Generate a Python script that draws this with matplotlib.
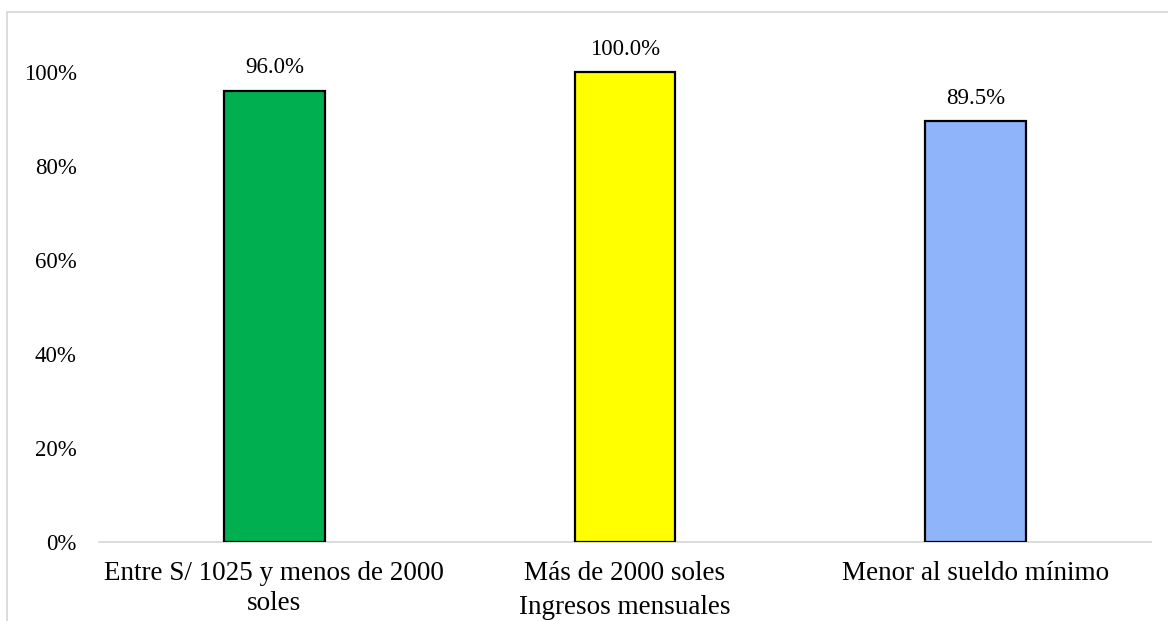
import matplotlib
matplotlib.use("Agg")
import matplotlib.pyplot as plt
from matplotlib.patches import Rectangle
from matplotlib.ticker import FuncFormatter, MultipleLocator

categories = ["Entre S/ 1025 y menos de 2000\nsoles", "Más de 2000 soles", "Menor al sueldo mínimo"]
values = [0.960, 1.000, 0.895]
labels = ["96.0%", "100.0%", "89.5%"]
colors = ["#00B050", "#FFFF00", "#8FB4F9"]
xlabel = "Ingresos mensuales"

plt.rcParams['font.family'] = ['Liberation Serif', 'DejaVu Serif']

fig = plt.figure(figsize=(11.68, 6.21), dpi=100)
fig.patches.append(Rectangle((7/1168, -0.01), 1.02, 1 - 12/621 + 0.01, transform=fig.transFigure,
                             fill=False, edgecolor="#d9d9d9", linewidth=1.3, zorder=0))
ax = fig.add_axes([99/1168, 1 - 542/621, (1151-99)/1168, (542-25)/621])

x = list(range(len(categories)))
bars = ax.bar(x, values, width=0.288, color=colors, edgecolor="black", linewidth=1.6, zorder=3)
for b, lab in zip(bars, labels):
    ax.annotate(lab, (b.get_x() + b.get_width()/2, b.get_height()), xytext=(0, 12.5),
                textcoords="offset points", ha="center", va="baseline", fontsize=16.5)

ax.set_xlim(-0.5, 2.5)
ax.set_ylim(0, 1.1)
ax.yaxis.set_major_locator(MultipleLocator(0.2))
ax.yaxis.set_major_formatter(FuncFormatter(lambda v, p: f"{v*100:.0f}%"))
ax.set_xticks(x)
ax.set_xticklabels(categories, fontsize=19.5, linespacing=1.22)
ax.tick_params(axis="y", labelsize=16.5, length=0, pad=16)
ax.tick_params(axis="x", length=0, pad=14)
for s in ["top", "right", "left"]:
    ax.spines[s].set_visible(False)
ax.spines["bottom"].set_color("#d9d9d9")
ax.spines["bottom"].set_linewidth(1.3)
fig.text((99 + 1151) / 2 / 1168, 1 - 614/621, xlabel, fontsize=19.5, ha="center", va="baseline")

fig.savefig("out.png", dpi=100)
